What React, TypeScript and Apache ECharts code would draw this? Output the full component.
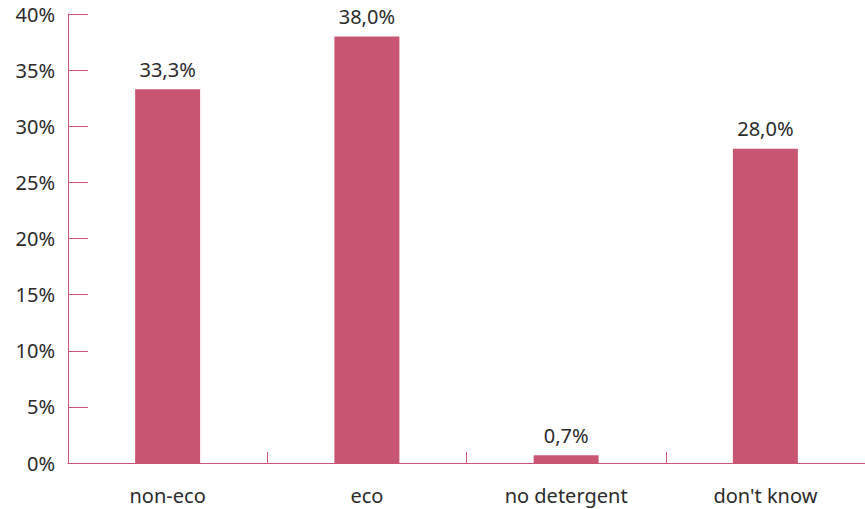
import React, { useEffect, useRef } from "react";
import * as echarts from "echarts";

const categories = ["non-eco", "eco", "no detergent", "don't know"];
const shares = [33.3, 38.0, 0.7, 28.0];
const yTicks = [0, 5, 10, 15, 20, 25, 30, 35, 40];

const BAR = "#c85672";
const AXIS = "#cc5575";
const TEXT = "#2b2b2b";
const FONT = "'Noto Sans', Lato, sans-serif";

const fmt = (v: number) => v.toFixed(1).replace(".", ",") + "%";

export default function App() {
  const ref = useRef<HTMLDivElement>(null);

  useEffect(() => {
    if (!ref.current) return;
    const chart = echarts.init(ref.current, undefined, { renderer: "svg" });
    chart.setOption({
      animation: false,
      textStyle: { fontFamily: FONT },
      grid: { left: 68, right: 0, top: 14, bottom: 46, containLabel: false },
      xAxis: {
        type: "category",
        data: categories,
        axisLine: { lineStyle: { color: AXIS, width: 1 } },
        axisTick: { show: true, inside: true, length: 11, lineStyle: { color: AXIS } },
        axisLabel: { color: TEXT, fontSize: 20, fontFamily: FONT, margin: 22 },
      },
      yAxis: {
        type: "value",
        min: yTicks[0],
        max: yTicks[yTicks.length - 1],
        interval: 5,
        splitLine: { show: false },
        axisLine: { show: true, lineStyle: { color: AXIS, width: 1 } },
        axisTick: { show: true, inside: true, length: 20, lineStyle: { color: AXIS } },
        axisLabel: {
          color: TEXT,
          fontSize: 20,
          fontFamily: FONT,
          margin: 13,
          formatter: (v: number) => `${v}%`,
        },
      },
      series: [
        {
          type: "bar",
          data: shares,
          barWidth: 65,
          itemStyle: { color: BAR },
          label: {
            show: true,
            position: "top",
            distance: 10,
            color: TEXT,
            fontSize: 20,
            fontFamily: FONT,
            formatter: (p: any) => fmt(p.value),
          },
        },
      ],
    });
    return () => chart.dispose();
  }, []);

  return <div ref={ref} style={{ width: 865, height: 509, position: "absolute", left: 0, top: 0 }} />;
}
